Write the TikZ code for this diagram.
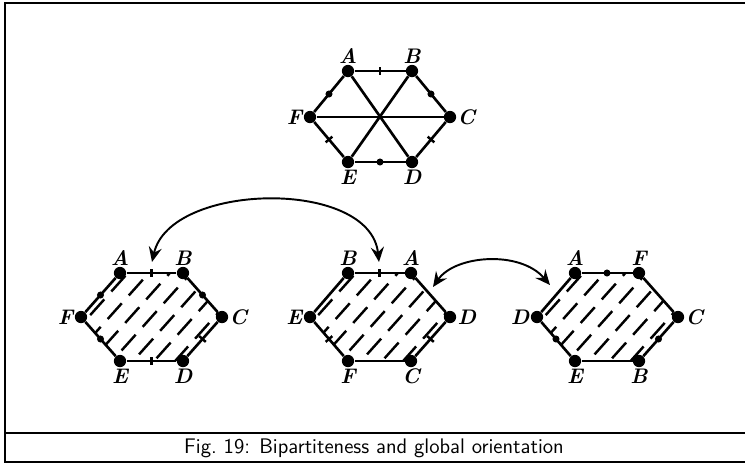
\documentclass[tikz,border=0pt]{standalone}
\usetikzlibrary{arrows.meta}
\tikzset{
  vtx/.style={circle, fill, inner sep=0pt, minimum size=7pt},
  lbl/.style={inner sep=0.5pt, font=\large\bfseries\itshape},
  edge/.style={line width=1.5pt},
  dotmark/.style={circle, fill, inner sep=0pt, minimum size=4pt},
  tickmark/.style={sloped, fill, inner sep=0pt, minimum width=1.4pt, minimum height=5pt},
  hatch/.style={line width=1.4pt, dash pattern=on 12pt off 6pt},
  frame/.style={line width=1.1pt},
  flip/.style={line width=1.1pt, {Stealth[length=8.5pt,width=7.5pt,inset=3pt]}-{Stealth[length=8.5pt,width=7.5pt,inset=3pt]}}
}
\begin{document}
\begin{tikzpicture}[x=0.02cm,y=-0.02cm]
\useasboundingbox (0,0) rectangle (745,464);

% frame and caption
\draw[frame] (748,3) -- (5,3) -- (5,462) -- (748,462);
\draw[frame] (5,433) -- (748,433);
\node[font=\large\sffamily] (cap) at (374,448) {Fig.\ 19: Bipartiteness and global orientation};

% hatching of the three hexagons
\foreach \cx in {151.5,379.5,607} {
  \begin{scope}[shift={(\cx,317)}]
    \clip (-31.5,-44) -- (31.5,-44) -- (70.5,0) -- (31.5,44) -- (-31.5,44) -- (-70.5,0) -- cycle;
    \foreach \s in {-63,-42,-21,0,21,42,63}
      \draw[hatch, dash phase=\s pt] (\s-51,57) -- (\s+51,-57);
  \end{scope}
}

% top hexagon
\node[vtx, label={[lbl]above:A}] (tA) at (348,71) {};
\node[vtx, label={[lbl]above:B}] (tB) at (412,71) {};
\node[vtx, label={[lbl]right:C}] (tC) at (450,117) {};
\node[vtx, label={[lbl]below:D}] (tD) at (412,162) {};
\node[vtx, label={[lbl]below:E}] (tE) at (348,162) {};
\node[vtx, label={[lbl]left:F}] (tF) at (310,117) {};
\draw[edge] (tA) -- node[tickmark]{} (tB);
\draw[edge] (tB) -- node[dotmark]{} (tC);
\draw[edge] (tC) -- node[tickmark]{} (tD);
\draw[edge] (tD) -- node[dotmark]{} (tE);
\draw[edge] (tE) -- node[tickmark]{} (tF);
\draw[edge] (tF) -- node[dotmark]{} (tA);
\draw[edge] (tA) -- (tD);
\draw[edge] (tB) -- (tE);
\draw[edge] (tF) -- (tC);

% left hexagon
\node[vtx, label={[lbl]above:A}] (lA) at (120,273) {};
\node[vtx, label={[lbl]above:B}] (lB) at (183,273) {};
\node[vtx, label={[lbl]right:C}] (lC) at (222,317) {};
\node[vtx, label={[lbl]below:D}] (lD) at (183,361) {};
\node[vtx, label={[lbl]below:E}] (lE) at (120,361) {};
\node[vtx, label={[lbl]left:F}] (lF) at (81,317) {};
\draw[edge] (lA) -- node[tickmark]{} (lB);
\draw[edge] (lB) -- node[dotmark]{} (lC);
\draw[edge] (lC) -- node[tickmark]{} (lD);
\draw[edge] (lD) -- node[tickmark]{} (lE);
\draw[edge] (lE) -- node[dotmark]{} (lF);
\draw[edge] (lF) -- node[dotmark]{} (lA);

% middle hexagon
\node[vtx, label={[lbl]above:B}] (mB) at (348,273) {};
\node[vtx, label={[lbl]above:A}] (mA) at (411,273) {};
\node[vtx, label={[lbl]right:D}] (mD) at (450,317) {};
\node[vtx, label={[lbl]below:C}] (mC) at (411,361) {};
\node[vtx, label={[lbl]below:F}] (mF) at (348,361) {};
\node[vtx, label={[lbl]left:E}] (mE) at (310,317) {};
\draw[edge] (mB) -- node[tickmark]{} (mA);
\draw[edge] (mA) -- (mD);
\draw[edge] (mD) -- node[tickmark]{} (mC);
\draw[edge] (mC) -- (mF);
\draw[edge] (mF) -- node[tickmark]{} (mE);
\draw[edge] (mE) -- (mB);

% right hexagon
\node[vtx, label={[lbl]above:A}] (rA) at (575,273) {};
\node[vtx, label={[lbl]above:F}] (rF) at (639,273) {};
\node[vtx, label={[lbl]right:C}] (rC) at (678,317) {};
\node[vtx, label={[lbl]below:B}] (rB) at (639,361) {};
\node[vtx, label={[lbl]below:E}] (rE) at (575,361) {};
\node[vtx, label={[lbl]left:D}] (rD) at (537,317) {};
\draw[edge] (rA) -- node[dotmark]{} (rF);
\draw[edge] (rF) -- (rC);
\draw[edge] (rC) -- node[dotmark]{} (rB);
\draw[edge] (rB) -- (rE);
\draw[edge] (rE) -- node[dotmark]{} (rD);
\draw[edge] (rD) -- (rA);

% exchange arrows
\coordinate (s1) at (152,262);
\coordinate (s2) at (379,262);
\coordinate (s3) at (433,287);
\coordinate (s4) at (550,285);
\draw[flip] (s1) .. controls (170,182) and (370,178) .. (s2);
\draw[flip] (s3) .. controls (455,255) and (520,250) .. (s4);
\end{tikzpicture}
\end{document}
